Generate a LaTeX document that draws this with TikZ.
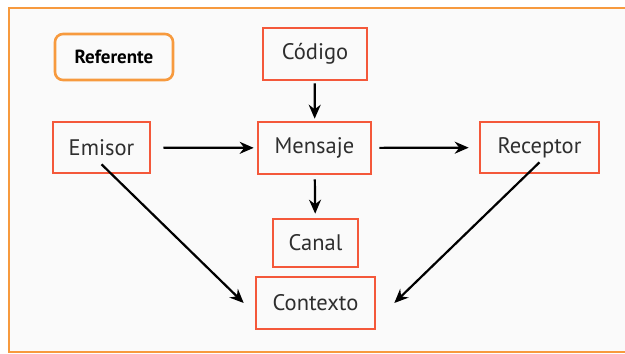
\documentclass[tikz,border=0pt]{standalone}
\usepackage{fontspec}
\setmainfont{PT Sans}
\usetikzlibrary{arrows.meta}
\definecolor{boxred}{HTML}{F4583A}
\definecolor{frameorange}{HTML}{F79A3E}
\definecolor{textgray}{HTML}{2E2E2E}

\begin{document}
\begin{tikzpicture}[x=1pt,y=-1pt,font=\fontsize{22.5}{25}\selectfont,every node/.style = {shape=rectangle, draw=boxred, line width=2.6pt, text=textgray, align=center, inner sep=0pt}]
		\tikzset{
			refbox/.style = { draw=frameorange, rounded corners=8pt, font=\fontsize{19}{21}\selectfont\bfseries, text=black },
			link/.style = { draw=black, line width=2.2pt, -{Stealth[length=14pt,width=12pt]} },
		}
		\useasboundingbox (0,0) rectangle (625,354);
		\draw[frameorange, line width=2.6pt, fill=gray!4] (9,8) rectangle (632,352);
		% boxes
		\node[refbox, minimum width=118pt, minimum height=46pt] (referente) at (114,57) {Referente};
		\node[minimum width=104pt, minimum height=52pt] (codigo) at (315,54) {Código};
		\node[minimum width=97pt, minimum height=51pt] (emisor) at (101.5,147.5) {Emisor};
		\node[minimum width=113pt, minimum height=52pt] (mensaje) at (314.5,148) {Mensaje};
		\node[minimum width=119pt, minimum height=51pt] (receptor) at (539.5,147.5) {Receptor};
		\node[minimum width=85pt, minimum height=48pt] (canal) at (315.5,243) {Canal};
		\node[minimum width=119pt, minimum height=52pt] (contexto) at (315.5,303) {Contexto};
		% arrows
		\draw[link, shorten <=2pt, shorten >=2pt] (codigo) -- (mensaje);
		\draw[link, shorten <=12pt, shorten >=3pt] (emisor) -- (mensaje);
		\draw[link, shorten <=7pt, shorten >=10pt] (mensaje) -- (receptor);
		\draw[link, shorten <=4pt, shorten >=4pt] (mensaje) -- (canal);
		\draw[link] ([yshift=10pt]emisor.south) -- ([xshift=-11pt]contexto.west);
		\draw[link] ([yshift=12pt]receptor.south) -- ([xshift=18pt]contexto.east);
\end{tikzpicture}
\end{document}
